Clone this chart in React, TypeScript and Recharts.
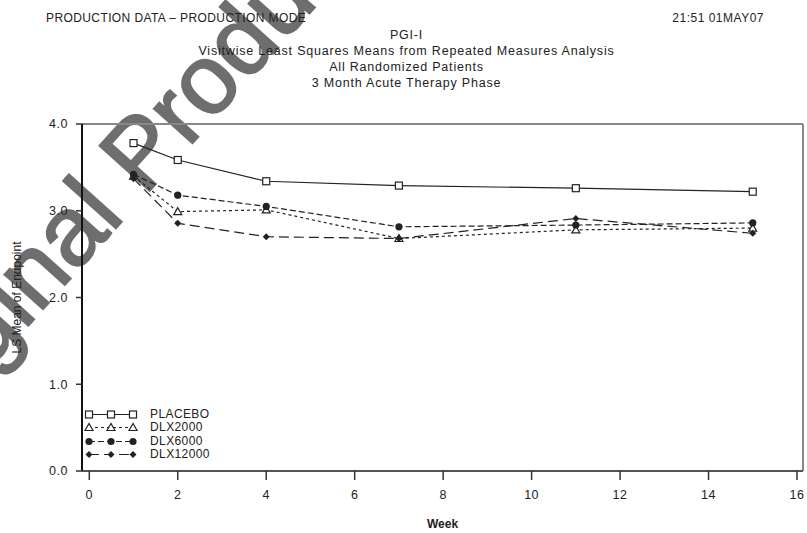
import { LineChart, Line, XAxis, YAxis, ReferenceLine, Legend } from "recharts";

// visits (weeks) and LS means
const weeks = [1, 2, 4, 7, 11, 15];
const placebo = [3.78, 3.585, 3.34, 3.29, 3.26, 3.22];
const dlx2000 = [3.4, 2.99, 3.01, 2.68, 2.78, 2.8];
const dlx6000 = [3.42, 3.18, 3.05, 2.815, 2.835, 2.86];
const dlx12000 = [3.37, 2.855, 2.7, 2.68, 2.91, 2.74];

const xTicks = [0, 2, 4, 6, 8, 10, 12, 14, 16];
const yTicks = [0, 1, 2, 3, 4];
const xDomain: [number, number] = [-0.165, 16.136];

const titleLines = [
  "PGI-I",
  "Visitwise Least Squares Means from Repeated Measures Analysis",
  "All Randomized Patients",
  "3 Month Acute Therapy Phase",
];

type Shape = "square" | "triangle" | "circle" | "diamond";

const series: { key: string; name: string; dash?: string; shape: Shape }[] = [
  { key: "placebo", name: "PLACEBO", shape: "square" },
  { key: "dlx2000", name: "DLX2000", dash: "3 3", shape: "triangle" },
  { key: "dlx6000", name: "DLX6000", dash: "6 3", shape: "circle" },
  { key: "dlx12000", name: "DLX12000", dash: "10 5", shape: "diamond" },
];

const rows = weeks.map((w, i) => ({
  week: w,
  placebo: placebo[i],
  dlx2000: dlx2000[i],
  dlx6000: dlx6000[i],
  dlx12000: dlx12000[i],
}));

const INK = "#222";
const FONT = '"Liberation Sans", Arial, sans-serif';

function Marker({ shape, cx, cy }: { shape: Shape; cx: number; cy: number }) {
  if (shape === "square")
    return <rect x={cx - 3.5} y={cy - 3.5} width={7} height={7} fill="#fff" stroke={INK} strokeWidth={1.2} />;
  if (shape === "triangle")
    return (
      <polygon
        points={`${cx},${cy - 4} ${cx - 4},${cy + 3} ${cx + 4},${cy + 3}`}
        fill="#fff"
        stroke={INK}
        strokeWidth={1.2}
      />
    );
  if (shape === "circle") return <circle cx={cx} cy={cy} r={3.6} fill={INK} />;
  return <polygon points={`${cx},${cy - 3.5} ${cx + 3.5},${cy} ${cx},${cy + 3.5} ${cx - 3.5},${cy}`} fill={INK} />;
}

function LegendBox() {
  return (
    <div style={{ fontFamily: FONT, fontSize: 12, color: INK, letterSpacing: 0.4 }}>
      {series.map((s) => (
        <div key={s.key} style={{ display: "flex", alignItems: "center", height: 13.3 }}>
          <svg width={66} height={13}>
            <line x1={5} x2={49} y1={6.5} y2={6.5} stroke={INK} strokeWidth={1.2} strokeDasharray={s.dash} />
            {[5, 27, 49].map((x) => (
              <Marker key={x} shape={s.shape} cx={x} cy={6.5} />
            ))}
          </svg>
          <span style={{ lineHeight: "13px" }}>{s.name}</span>
        </div>
      ))}
    </div>
  );
}

export default function App() {
  const tickStyle = { fill: INK, fontSize: 12.5, fontFamily: FONT, letterSpacing: 0.5 };
  return (
    <div
      style={{
        position: "absolute",
        left: 0,
        top: 0,
        width: 807,
        height: 533,
        background: "#fff",
        overflow: "hidden",
        fontFamily: FONT,
        color: INK,
      }}
    >
      {/* watermark */}
      <svg width={807} height={533} style={{ position: "absolute", left: 0, top: 0 }}>
        <text
          x={-100}
          y={468}
          transform="rotate(-48 -100 468)"
          fontFamily={FONT}
          fontSize={98}
          fill="#6e6e6e"
          stroke="#6e6e6e"
          strokeWidth={2}
        >
          Original Product
        </text>
      </svg>

      <div style={{ position: "absolute", left: 46, top: 11, fontSize: 12, letterSpacing: 0.4 }}>
        PRODUCTION DATA – PRODUCTION MODE
      </div>
      <div style={{ position: "absolute", right: 43, top: 11, fontSize: 12, letterSpacing: 0.5 }}>
        21:51 01MAY07
      </div>
      {titleLines.map((t, i) => (
        <div
          key={t}
          style={{
            position: "absolute",
            left: 3,
            width: 807,
            top: 28 + i * 16,
            textAlign: "center",
            fontSize: 12.5,
            letterSpacing: 0.8,
          }}
        >
          {t}
        </div>
      ))}

      <div style={{ position: "absolute", left: 0, top: 0 }}>
        <LineChart width={807} height={533} data={rows} margin={{ top: 124, right: 4, bottom: 32, left: 0 }}>
          <XAxis
            type="number"
            dataKey="week"
            domain={xDomain}
            ticks={xTicks}
            allowDataOverflow
            tickSize={9}
            tickMargin={10}
            stroke="#555"
            axisLine={{ stroke: "#555", strokeWidth: 2 }}
            tickLine={{ stroke: "#333", strokeWidth: 1.5 }}
            tick={tickStyle}
            label={{
              content: ({ viewBox }: any) => (
                <text
                  x={viewBox.x + viewBox.width / 2}
                  y={528}
                  textAnchor="middle"
                  fontFamily={FONT}
                  fontSize={12}
                  fontWeight={600}
                  fill={INK}
                >
                  Week
                </text>
              ),
            }}
          />
          <YAxis
            type="number"
            domain={[0, 4]}
            ticks={yTicks}
            width={82}
            tickSize={6}
            tickMargin={8}
            tickFormatter={(v: number) => v.toFixed(1)}
            axisLine={{ stroke: "#111", strokeWidth: 2 }}
            tickLine={{ stroke: "#333", strokeWidth: 1.5 }}
            tick={tickStyle}
            label={{
              content: ({ viewBox }: any) => {
                const cy = viewBox.y + viewBox.height / 2;
                return (
                  <text
                    x={17}
                    y={cy}
                    transform={`rotate(-90 17 ${cy})`}
                    textAnchor="middle"
                    dominantBaseline="central"
                    fontFamily={FONT}
                    fontSize={12}
                    fill={INK}
                  >
                    LS Mean of Endpoint
                  </text>
                );
              },
            }}
          />
          <ReferenceLine y={4} stroke="#888" strokeWidth={2} />
          <ReferenceLine x={xDomain[1]} stroke="#888" strokeWidth={2} />
          <Legend
            layout="horizontal"
            verticalAlign="middle"
            align="center"
            content={() => <LegendBox />}
            wrapperStyle={{ left: 84, top: 408, width: 180 }}
          />
          {series.map((s) => (
            <Line
              key={s.key}
              dataKey={s.key}
              name={s.name}
              stroke={INK}
              strokeWidth={1.2}
              strokeDasharray={s.dash}
              isAnimationActive={false}
              dot={(p: any) => <Marker key={`${s.key}-${p.index}`} shape={s.shape} cx={p.cx} cy={p.cy} />}
            />
          ))}
        </LineChart>
      </div>
    </div>
  );
}
